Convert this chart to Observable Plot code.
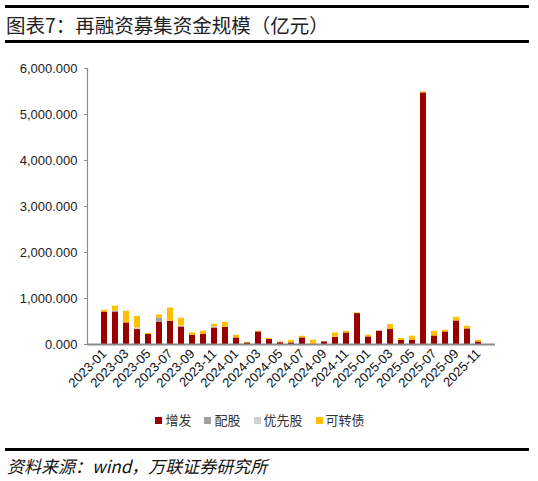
<!DOCTYPE html>
<html><head><meta charset="utf-8">
<script src="https://cdn.jsdelivr.net/npm/d3@7"></script>
<script src="https://cdn.jsdelivr.net/npm/@observablehq/plot@0.6"></script>
<style>
body{margin:0;background:#fff;}
#wrap{position:relative;width:538px;height:481px;overflow:hidden;font-family:"Noto Sans CJK SC",sans-serif;background:#fff;}
.rule{position:absolute;left:5px;width:524px;background:#000;}
#title{position:absolute;left:6px;top:11px;font-size:19.5px;line-height:28px;color:#222;white-space:nowrap;}
#chart{position:absolute;left:0;top:45px;}
#legend{position:absolute;top:410px;left:0;width:520px;display:flex;justify-content:center;gap:13px;font-size:13px;color:#333;line-height:20px;}
#legend span.item{display:flex;align-items:center;gap:3px;}
#legend i{display:inline-block;width:7px;height:7px;}
#source{position:absolute;left:7px;top:453px;font-size:17px;font-style:italic;color:#111;white-space:nowrap;line-height:26px;}
</style></head>
<body>
<div id="wrap">
  <div class="rule" style="top:5px;height:3px"></div>
  <div id="title">图表7：再融资募集资金规模（亿元）</div>
  <div class="rule" style="top:40px;height:3px"></div>
  <div id="chart"></div>
  <div id="legend"></div>
  <div class="rule" style="top:448px;height:3px"></div>
  <div id="source">资料来源：wind，万联证券研究所</div>
</div>
<script>
const months = ["2023-01","2023-02","2023-03","2023-04","2023-05","2023-06","2023-07","2023-08","2023-09","2023-10","2023-11","2023-12",
"2024-01","2024-02","2024-03","2024-04","2024-05","2024-06","2024-07","2024-08","2024-09","2024-10","2024-11","2024-12",
"2025-01","2025-02","2025-03","2025-04","2025-05","2025-06","2025-07","2025-08","2025-09","2025-10","2025-11"];
const labelMonths = ["2023-01","2023-03","2023-05","2023-07","2023-09","2023-11","2024-01","2024-03","2024-05","2024-07","2024-09","2024-11","2025-01","2025-03","2025-05","2025-07","2025-09","2025-11"];
const seriesNames = ["增发","配股","优先股","可转债"];
const seriesColors = ["#990000","#A0A0A0","#CFCFCF","#FFC000"];
const zengfa = [707,695,470,325,217,484,505,382,202,217,360,375,
  143,35,273,108,40,35,143,0,56,158,252,672,
  165,289,325,87,94,5470,187,273,512,339,56];
const peigu = [0,30,0,0,0,94,0,0,0,0,0,0,
  0,0,0,0,0,0,0,0,0,0,0,0,
  0,0,0,0,0,0,0,0,0,0,0];
const youxiangu = [0,0,0,36,0,0,0,22,0,0,25,0,
  0,0,0,0,0,0,0,0,0,0,0,0,
  0,0,0,0,0,0,0,0,0,0,0];
const kezhuanzhai = [38,110,253,250,22,65,289,168,50,72,55,108,
  58,15,15,22,12,55,36,94,0,94,36,14,
  36,5,108,43,87,20,100,36,80,58,36];
const yTicks = [0,1000,2000,3000,4000,5000,6000];

const seriesValues = [zengfa, peigu, youxiangu, kezhuanzhai];
const rows = [];
months.forEach((m,i)=>seriesNames.forEach((s,k)=>rows.push({month:m, type:s, value:seriesValues[k][i]})));

const leftLine = (index, scales, values, dimensions) => {
  const d = dimensions || {};
  const ln = document.createElementNS("http://www.w3.org/2000/svg","line");
  ln.setAttribute("x1", d.marginLeft + 0.5); ln.setAttribute("x2", d.marginLeft + 0.5);
  ln.setAttribute("y1", d.marginTop); ln.setAttribute("y2", d.height - d.marginBottom);
  ln.setAttribute("stroke","#8c8c8c"); ln.setAttribute("stroke-width","1.2");
  return ln;
};

const chart = Plot.plot({
  width:538, height:355,
  marginTop:23, marginBottom:56, marginLeft:87, marginRight:43,
  style:{fontFamily:"'Liberation Sans', Arial, sans-serif", fontSize:"13px", color:"#222", background:"transparent", overflow:"visible"},
  x:{domain:months, paddingInner:0.45, paddingOuter:0.325, label:null},
  y:{domain:[0,6000], label:null},
  color:{domain:seriesNames, range:seriesColors},
  marks:[
    Plot.barY(rows, {x:"month", y:"value", fill:"type", order:seriesNames}),
    Plot.ruleY([0], {stroke:"#8c8c8c", strokeWidth:2}),
    leftLine,
    Plot.axisY({ticks:yTicks, tickSize:3, tickPadding:7, tickFormat:d3.format(",.3f"), stroke:"#8c8c8c", label:null, fill:"#222", fontSize:13}),
    Plot.axisX({ticks:labelMonths, tickSize:0, tickPadding:7, tickRotate:-45, label:null, fill:"#111", fontSize:13})
  ]
});
document.getElementById("chart").appendChild(chart);

const lg = document.getElementById("legend");
seriesNames.forEach((s,k)=>{
  const it = document.createElement("span"); it.className="item";
  const sw = document.createElement("i"); sw.style.background = seriesColors[k];
  const tx = document.createElement("span"); tx.textContent = s;
  it.appendChild(sw); it.appendChild(tx); lg.appendChild(it);
});
</script>
</body></html>
